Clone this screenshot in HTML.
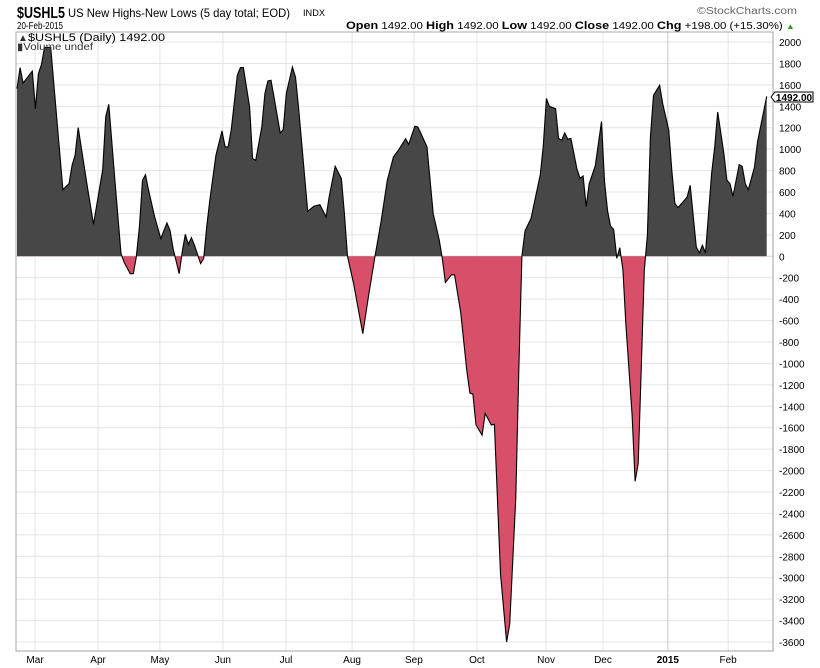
<!DOCTYPE html>
<html><head><meta charset="utf-8"><style>
body{margin:0;background:#fff;font-family:"Liberation Sans",sans-serif;}
svg{display:block}
</style></head><body>
<svg id="chart" width="820" height="668" xmlns="http://www.w3.org/2000/svg">
  <text x="17" y="18" font-size="16" font-weight="bold" fill="#000" textLength="48" lengthAdjust="spacingAndGlyphs">$USHL5</text>
  <text x="68" y="17" font-size="12" fill="#000" textLength="222" lengthAdjust="spacingAndGlyphs">US New Highs-New Lows (5 day total; EOD)</text>
  <text x="303" y="16" font-size="9" fill="#000" textLength="22" lengthAdjust="spacingAndGlyphs">INDX</text>
  <text x="697" y="14" font-size="10" fill="#666" textLength="100" lengthAdjust="spacingAndGlyphs">©StockCharts.com</text>
  <text x="17" y="29" font-size="10" fill="#000" textLength="46" lengthAdjust="spacingAndGlyphs">20-Feb-2015</text>
  <text x="346" y="29" font-size="10" fill="#000" textLength="449" lengthAdjust="spacingAndGlyphs"><tspan font-weight="bold" font-size="11">Open</tspan> 1492.00 <tspan font-weight="bold" font-size="11">High</tspan> 1492.00 <tspan font-weight="bold" font-size="11">Low</tspan> 1492.00 <tspan font-weight="bold" font-size="11">Close</tspan> 1492.00 <tspan font-weight="bold" font-size="11">Chg</tspan> +198.00 (+15.30%) <tspan fill="#2a9a2a" font-size="8">▲</tspan></text>
  <g id="grid"></g>
  <defs>
    <clipPath id="above"><rect id="clipA" x="0" y="0" width="820" height="0"/></clipPath>
    <clipPath id="below"><rect id="clipB" x="0" y="0" width="820" height="668"/></clipPath>
  </defs>
  <g id="series"></g>
  <rect x="16" y="32" width="757" height="619" fill="none" stroke="#aaa"/>
  <line x1="773" y1="32" x2="773" y2="651" stroke="#999" stroke-dasharray="1,1"/>
  <line x1="16" y1="651" x2="773" y2="651" stroke="#999" stroke-dasharray="1,1"/>
  <g id="axes"></g>
  <text x="18" y="41" font-size="10" fill="#333">▲</text>
  <text x="28" y="41" font-size="11" fill="#000" textLength="137" lengthAdjust="spacingAndGlyphs">$USHL5 (Daily) 1492.00</text>
  <text x="17" y="50" font-size="10" fill="#333" textLength="76" lengthAdjust="spacingAndGlyphs">▮Volume undef</text>
  <g id="lastbox">
    <path d="M771 97 L775 92 L813 92 L813 102 L775 102 Z" fill="#fff" stroke="#000"/>
    <text x="794" y="101" font-size="10" font-weight="bold" text-anchor="middle">1492.00</text>
  </g>
</svg>
<script>
const days = [0,1,2,5,6,7,8,9,11,15,17,18,19,20,22,23,25,28,29,30,32,34,35,37,38,39,40,41,42,43,45,47,49,50,51,53,54,55,56,57,58,60,61,62,63,65,67,68,69,70,72,73,74,76,77,78,80,81,82,83,84,86,87,88,90,91,92,95,97,99,101,102,104,106,107,108,110,113,115,117,119,121,123,125,127,128,130,131,134,136,138,139,140,142,143,145,147,148,149,150,152,153,155,156,158,160,161,163,164,165,166,168,169,171,172,173,174,176,177,178,179,180,181,183,184,185,186,187,189,191,192,193,194,195,196,197,198,199,201,202,203,204,205,206,207,208,210,211,213,214,215,216,219,220,222,223,224,225,227,228,229,231,232,233,234,236,237,238,239,241,242,245];
const values = [1565,1761,1617,1729,1378,1705,1792,1950,1950,622,678,849,943,1201,834,647,299,809,1300,1419,709,25,-55,-162,-162,-6,274,709,762,616,367,165,311,243,72,-162,40,205,112,175,103,-68,-21,275,523,943,1170,1021,1021,1176,1689,1761,1761,1394,912,896,1207,1519,1636,1643,1487,1151,1182,1519,1767,1673,1394,420,467,482,367,553,840,725,399,0,-255,-722,-348,0,327,709,927,1005,1098,1045,1213,1207,1021,399,149,-20,-245,-172,-175,-524,-1066,-1277,-1287,-1575,-1669,-1466,-1575,-1568,-2963,-3600,-3437,-2252,-1066,0,237,356,491,763,1033,1473,1399,1378,1100,1083,1151,1094,1100,813,728,750,465,678,846,1258,700,423,280,250,-20,80,-125,-640,-1480,-2100,-1935,-1064,-131,200,1113,1503,1596,1425,1176,803,492,455,553,663,87,31,103,31,772,1020,1347,958,709,678,560,856,840,678,622,833,1067,1492];
const yTicks = [2000,1800,1600,1400,1200,1000,800,600,400,200,0,-200,-400,-600,-800,-1000,-1200,-1400,-1600,-1800,-2000,-2200,-2400,-2600,-2800,-3000,-3200,-3400,-3600];
const monthDays = [5.9,26.5,46.7,67.3,87.9,109.5,129.7,150.3,172.9,191.5,212.7,232.4];
const monthLabels = ["Mar","Apr","May","Jun","Jul","Aug","Sep","Oct","Nov","Dec","2015","Feb"];

const NS="http://www.w3.org/2000/svg";
function xS(d){return 17+d*3.06;}
function yS(v){return 256.3-v*0.10714;}
function mk(tag,attrs,parent){const e=document.createElementNS(NS,tag);for(const k in attrs)e.setAttribute(k,attrs[k]);parent.appendChild(e);return e;}
const grid=document.getElementById('grid'), axes=document.getElementById('axes'), series=document.getElementById('series');
yTicks.forEach(v=>{
  const l=mk('line',{x1:16,x2:773,y1:yS(v),y2:yS(v),stroke:v===0?'#cfcfcf':'#e4e4e4'},grid);
  
  
  const t=mk('text',{x:779,y:yS(v)+4,'font-size':10,fill:'#000'},axes);
  t.textContent=v;
  
  
});
monthDays.forEach((d,i)=>{
  const l=mk('line',{x1:xS(d),x2:xS(d),y1:32,y2:651,stroke:monthLabels[i]==='2015'?'#c8c8c8':'#e4e4e4'},grid);
  
  
  const t=mk('text',{x:xS(d),y:663,'font-size':10,'text-anchor':'middle',fill:'#000','font-weight':monthLabels[i]==='2015'?'bold':'normal'},axes);
  t.textContent=monthLabels[i];
  
  
});
const y0=yS(0);
document.getElementById('clipA').setAttribute('height',y0);
document.getElementById('clipB').setAttribute('y',y0);
let line='';
days.forEach((d,i)=>{line+=(i?'L':'M')+xS(d).toFixed(1)+' '+yS(values[i]).toFixed(1)+' ';});
const area=line+'L'+xS(days[days.length-1]).toFixed(1)+' '+y0+' L'+xS(days[0]).toFixed(1)+' '+y0+' Z';
const pa=mk('path',{d:area,fill:'#474747','clip-path':'url(#above)'},series);


const pb=mk('path',{d:area,fill:'#d74f68','clip-path':'url(#below)'},series);


const pl=mk('path',{d:line,fill:'none',stroke:'#000','stroke-width':1.1},series);


</script>
</body></html>
